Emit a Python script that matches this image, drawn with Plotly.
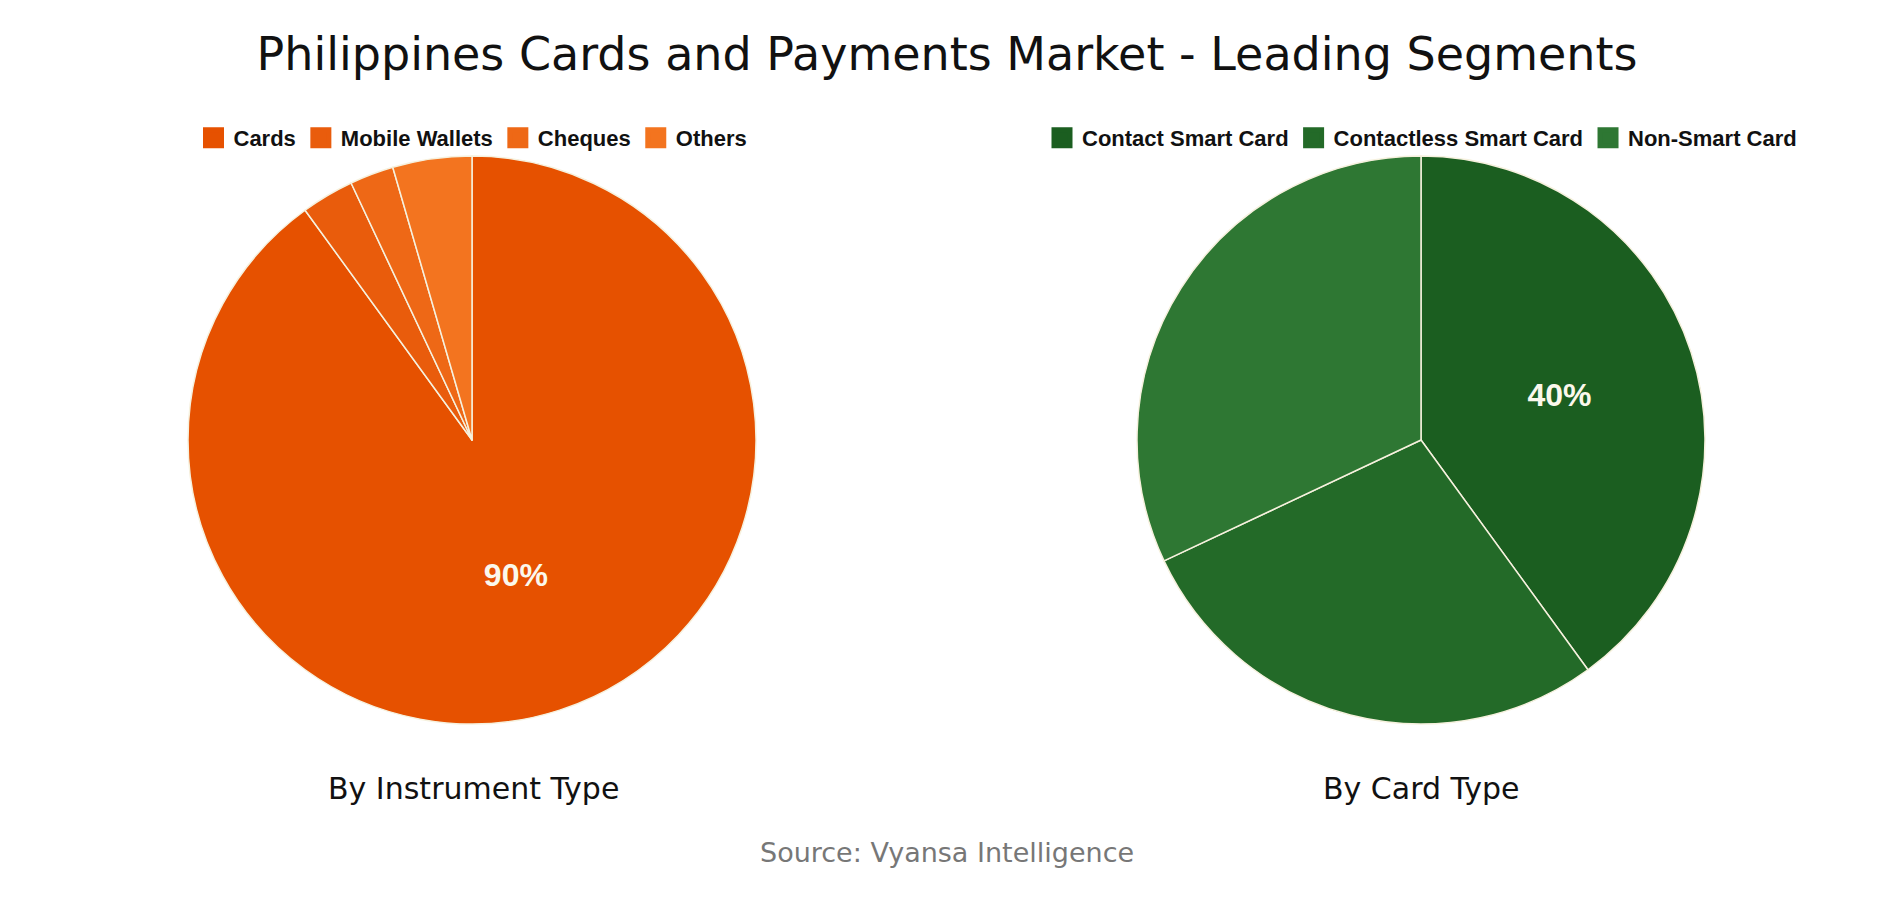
import plotly.graph_objects as go

# Data
instrument_labels = ["Cards", "Mobile Wallets", "Cheques", "Others"]
instrument_values = [90, 3, 2.5, 4.5]
instrument_text = ["90%", "", "", ""]
instrument_colors = ["#E65100", "#E95C0C", "#EE6816", "#F3741F"]

card_labels = ["Contact Smart Card", "Contactless Smart Card", "Non-Smart Card"]
card_values = [40, 28, 32]
card_text = ["40%", "", ""]
card_colors = ["#1B5E20", "#236A28", "#2E7733"]

title_text = "Philippines Cards and Payments Market - Leading Segments"
sub_left = "By Instrument Type"
sub_right = "By Card Type"
source_text = "Source: Vyansa Intelligence"

# page body has an 8px margin; figure fills the rest of the window
OFF = 8
W, H = 1894 - 2 * OFF, 900 - 2 * OFF


def px(x):
    return (x - OFF) / W


def py(y):
    return 1 - (y - OFF) / H


R = 284
LC = (472, 440)
RC = (1421, 440)

fig = go.Figure()
for labels, values, text, colors, c, lg in [
    (instrument_labels, instrument_values, instrument_text, instrument_colors, LC, "legend"),
    (card_labels, card_values, card_text, card_colors, RC, "legend2"),
]:
    fig.add_trace(go.Pie(
        labels=labels, values=values, text=text,
        textinfo="text", textposition="inside", insidetextorientation="horizontal",
        sort=False, direction="clockwise", rotation=0,
        marker=dict(colors=colors, line=dict(color="#F6F1DE", width=1.5)),
        textfont=dict(family="Liberation Sans", size=32, color="#FBF8EC", weight="bold"),
        domain=dict(x=[px(c[0] - R), px(c[0] + R)], y=[py(c[1] + R), py(c[1] - R)]),
        showlegend=False, hoverinfo="label+percent",
    ))
    # legend entries (square swatches)
    for lab, col in zip(labels, colors):
        fig.add_trace(go.Scatter(
            x=[None], y=[None], mode="markers", name=lab,
            marker=dict(symbol="square", size=16, color=col, line=dict(color=col, width=5)),
            legend=lg, showlegend=True, hoverinfo="skip",
        ))

legend_common = dict(
    orientation="h", yanchor="middle", xanchor="center",
    font=dict(family="Liberation Sans", size=22, color="#111111", weight="bold"),
    bgcolor="rgba(0,0,0,0)", tracegroupgap=0, itemclick=False, itemdoubleclick=False,
)
fig.update_layout(
    width=W, height=H,
    margin=dict(l=0, r=0, t=0, b=0),
    paper_bgcolor="white", plot_bgcolor="white",
    xaxis=dict(visible=False), yaxis=dict(visible=False),
    showlegend=True,
    legend=dict(x=px(473), y=py(138), **legend_common),
    legend2=dict(x=px(1422), y=py(138), **legend_common),
    title=dict(text=title_text, x=px(947), xanchor="center", y=py(54), yanchor="middle",
               font=dict(family="DejaVu Sans", size=46, color="#111111")),
    annotations=[
        dict(text=sub_left, x=px(473), y=py(788), xref="paper", yref="paper",
             showarrow=False, xanchor="center", yanchor="middle",
             font=dict(family="DejaVu Sans", size=30, color="#111111")),
        dict(text=sub_right, x=px(1421), y=py(788), xref="paper", yref="paper",
             showarrow=False, xanchor="center", yanchor="middle",
             font=dict(family="DejaVu Sans", size=30, color="#111111")),
        dict(text=source_text, x=px(947), y=py(852), xref="paper", yref="paper",
             showarrow=False, xanchor="center", yanchor="middle",
             font=dict(family="DejaVu Sans", size=27, color="#777777")),
    ],
)

fig.write_html("out.html")
